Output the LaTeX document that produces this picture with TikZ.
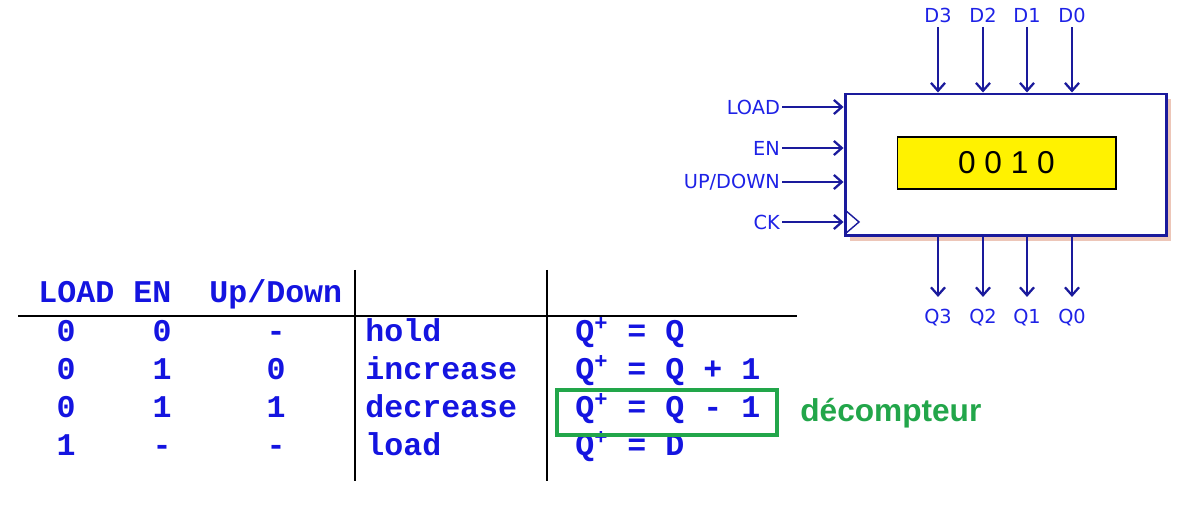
\documentclass[tikz,border=0pt]{standalone}
\usepackage{fontspec}
\setmainfont{Liberation Sans}
\setmonofont{Liberation Mono}
\newfontfamily\pinfont{DejaVu Sans}
\usetikzlibrary{arrows.meta,positioning}
\definecolor{pinblue}{HTML}{1E22E6}
\definecolor{wireblue}{HTML}{1A1A9C}
\definecolor{tabblue}{HTML}{1414E0}
\definecolor{mark}{HTML}{22A64A}
\definecolor{glow}{HTML}{EDC6B8}

\begin{document}
\begin{tikzpicture}[x=0.02cm,y=-0.02cm,>={Straight Barb[length=4.5pt,width=8pt]},
  pinlabel/.style={font=\pinfont\fontsize{11}{13}\selectfont,text=pinblue,inner sep=1pt},
  wire/.style={->,wireblue,line width=1.3pt},
  tabcell/.style={font=\ttfamily\bfseries\fontsize{18}{20}\selectfont,text=tabblue,anchor=base,inner sep=0pt},
  tabline/.style={black,line width=1.2pt}]
\useasboundingbox (0,0) rectangle (1190,519);

% counter block
\fill[glow] (850,99) rectangle (1171,241);
\node[draw=wireblue,line width=1.7pt,fill=white,minimum width=6.44cm,minimum height=2.84cm,inner sep=0pt] (ctr) at (1006,165) {};
\node[draw=black,line width=0.6pt,fill=yellow,minimum width=4.38cm,minimum height=1.04cm,font=\fontsize{18}{20}\selectfont] (disp) at (1006.5,163) {0 0 1 0};
\draw[wireblue,line width=0.8pt] (845,210) -- (859,222) -- (845,234);

\foreach \name/\x/\lbl in {d3/938/D3,d2/983/D2,d1/1027/D1,d0/1072/D0} {
  \node[pinlabel] (\name) at (\x,15) {\lbl};
  \draw[wire,shorten <=1.5pt] (\name) -- (\name |- ctr.north);
}
\foreach \name/\x/\lbl in {q3/938/Q3,q2/983/Q2,q1/1027/Q1,q0/1072/Q0} {
  \node[pinlabel] (\name) at (\x,318) {\lbl};
  \draw[wire,shorten >=6pt] (\name |- ctr.south) -- (\name);
}
\foreach \name/\y/\lbl in {load/107/LOAD,en/148/EN,updown/182/{UP/DOWN},ck/222/CK} {
  \node[pinlabel,anchor=east] (\name) at (782,\y) {\lbl};
  \draw[wire] (\name) -- (\name -| ctr.west);
}

% truth table
\draw[tabline] (18,316) -- (797,316);
\draw[tabline] (355,270) -- (355,481);
\draw[tabline] (547,270) -- (547,481);
\node[tabcell,anchor=base west] (hload) at (38,303) {LOAD};
\node[tabcell,anchor=base west] (hen) at (133,303) {EN};
\node[tabcell,anchor=base west] (hud) at (209,303) {Up/Down};
\foreach \a/\b/\c/\op/\eq [count=\i, evaluate=\i as \y using 304+38*\i] in
  {0/0/-/hold/{Q\textsuperscript{+} = Q},
   0/1/0/increase/{Q\textsuperscript{+} = Q + 1},
   0/1/1/decrease/{Q\textsuperscript{+} = Q - 1},
   1/-/-/load/{Q\textsuperscript{+} = D}} {
  \node[tabcell] (a\i) at (66,\y) {\a};
  \node[tabcell] (b\i) at (162,\y) {\b};
  \node[tabcell] (c\i) at (276,\y) {\c};
  \node[tabcell,anchor=base west] (op\i) at (365,\y) {\op};
  \node[tabcell,anchor=base west] (eq\i) at (575,\y) {\eq};
}
\node[draw=mark,line width=1.8pt,minimum width=4.4cm,minimum height=0.9cm] (pick) at (667,412.5) {};
\node[font=\bfseries\fontsize{18}{20}\selectfont,text=mark,anchor=west,inner sep=0pt] (dec) at (800,413) {décompteur};
\end{tikzpicture}
\end{document}
